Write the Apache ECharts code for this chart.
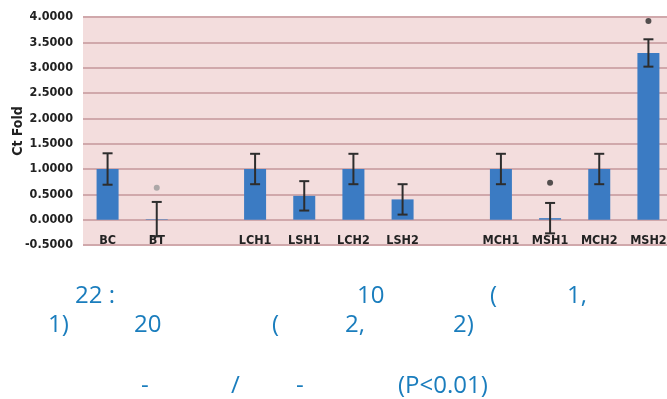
<!DOCTYPE html>
<html><head><meta charset="utf-8">
<style>html,body{margin:0;padding:0;background:#fff;}#c{width:667px;height:399px;}</style>
<script src="https://cdn.jsdelivr.net/npm/echarts@6/dist/echarts.min.js"></script>
</head><body><div id="c"></div>
<script>
var categories = ['BC','BT','','LCH1','LSH1','LCH2','LSH2','','MCH1','MSH1','MCH2','MSH2'];
var values     = [1.0, 0.01, null, 1.0, 0.47, 1.0, 0.40, null, 1.0, 0.03, 1.0, 3.29];
var errors     = [0.31, 0.34, null, 0.30, 0.29, 0.30, 0.30, null, 0.30, 0.30, 0.30, 0.27];
var marks      = [null, 0.63, null, null, null, null, null, null, null, 0.73, null, 3.92];
var yTicks     = {min: -0.5, max: 4, interval: 0.5};
var captionRows = [
  ['22 :', '10', '(', '1,'],
  ['1)', '20', '(', '2,', '2)'],
  ['-', '/', '-', '(P<0.01)']
];

var captionX = [[75, 357, 490, 567], [48, 134, 272, 345, 453], [141, 231, 296, 398]];
var captionY = [295, 324, 385];

var errData = [];
for (var i = 0; i < categories.length; i++) {
  if (values[i] !== null) errData.push([i, values[i] - errors[i], values[i] + errors[i]]);
}
var markData = [];
for (var j = 0; j < categories.length; j++) {
  if (marks[j] !== null) markData.push({value: [j, marks[j]], itemStyle: {color: j === 1 ? '#9a9a9a' : '#2a2a2a'}});
}

var graphics = [];
captionRows.forEach(function (row, r) {
  row.forEach(function (t, k) {
    graphics.push({type: 'text', left: captionX[r][k], top: captionY[r] - 11,
      style: {text: t, fill: '#1a7dbd', font: '24px "Open Sans"'}});
  });
});

var chart = echarts.init(document.getElementById('c'));
chart.setOption({
  animation: false,
  grid: {left: 83, right: -6, top: 17, bottom: 154, show: true, backgroundColor: '#f3dddd', borderWidth: 0,
         containLabel: false, outerBoundsMode: 'none'},
  xAxis: {
    type: 'category', data: categories,
    axisLine: {show: false}, axisTick: {show: false},
    axisLabel: {margin: -11, color: '#222', fontWeight: 'bold', fontSize: 12.5, fontFamily: 'DejaVu Sans Condensed', interval: 0},
    splitLine: {show: false}
  },
  yAxis: {
    type: 'value', min: yTicks.min, max: yTicks.max, interval: yTicks.interval,
    name: 'Ct Fold', nameLocation: 'middle', nameGap: 58, nameRotate: 90, nameMoveOverlap: false,
    nameTextStyle: {color: '#222', fontWeight: 'bold', fontSize: 14, fontFamily: 'DejaVu Sans Condensed'},
    axisLine: {show: false}, axisTick: {show: false},
    axisLabel: {margin: 10, color: '#222', fontWeight: 'bold', fontSize: 12.5, fontFamily: 'DejaVu Sans Condensed',
      formatter: function (v) { return v.toFixed(4); }},
    splitLine: {lineStyle: {color: '#d0a8ab', width: 2}}
  },
  series: [
    {type: 'bar', data: values, barWidth: 22, itemStyle: {color: '#3b7bc3'}},
    {type: 'custom', data: errData, z: 5,
      renderItem: function (params, api) {
        var lo = api.coord([api.value(0), api.value(1)]);
        var hi = api.coord([api.value(0), api.value(2)]);
        var w = 5;
        var st = {stroke: '#2d2d2d', lineWidth: 2};
        return {type: 'group', children: [
          {type: 'line', shape: {x1: hi[0], y1: hi[1], x2: lo[0], y2: lo[1]}, style: st},
          {type: 'line', shape: {x1: hi[0] - w, y1: hi[1], x2: hi[0] + w, y2: hi[1]}, style: st},
          {type: 'line', shape: {x1: lo[0] - w, y1: lo[1], x2: lo[0] + w, y2: lo[1]}, style: st}
        ]};
      }
    },
    {type: 'scatter', data: markData, symbol: 'circle', symbolSize: 6, z: 6}
  ],
  graphic: graphics
});
</script>
</body></html>
